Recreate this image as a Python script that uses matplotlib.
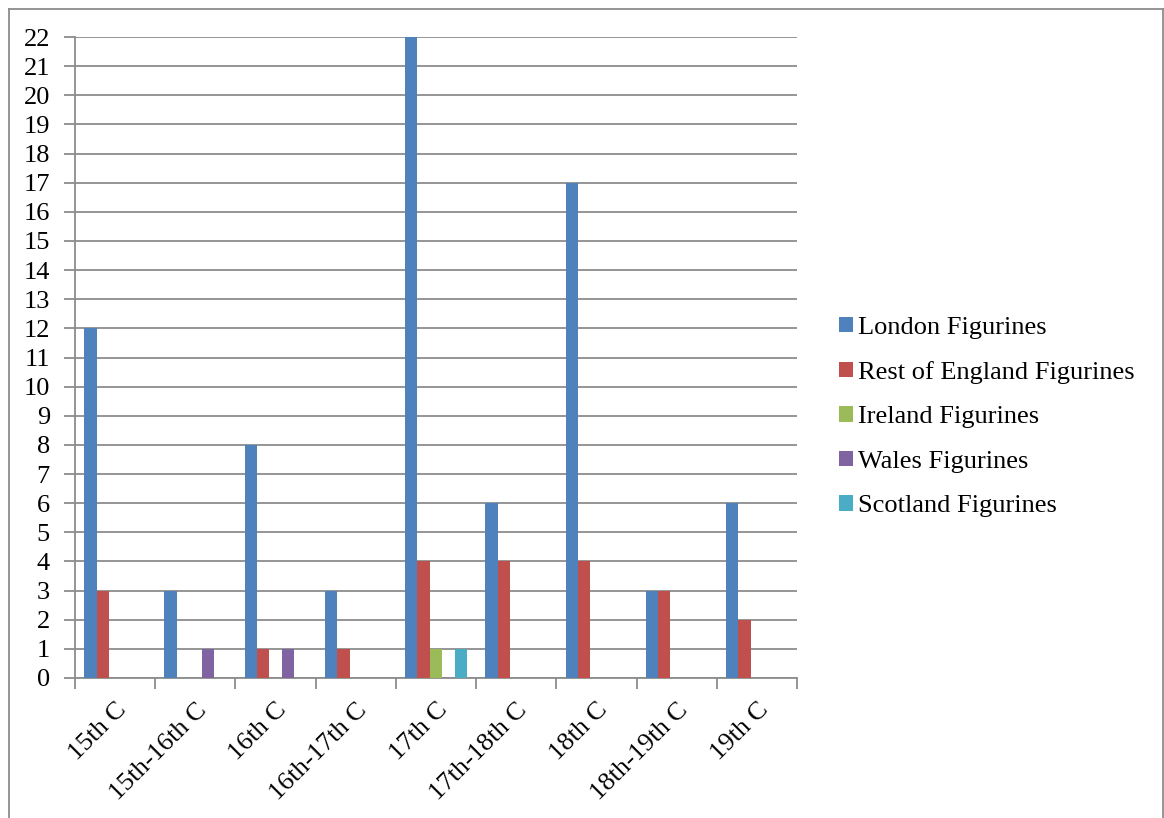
import numpy as np
import matplotlib
matplotlib.use("Agg")
import matplotlib.pyplot as plt
from matplotlib.lines import Line2D
from matplotlib.patches import Patch

plt.rcParams['font.family'] = ['Liberation Serif', 'DejaVu Serif']

# dados
periodos = ["15th C", "15th-16th C", "16th C", "16th-17th C", "17th C",
            "17th-18th C", "18th C", "18th-19th C", "19th C"]
london = [12, 3, 8, 3, 22, 6, 17, 3, 6]
resto_inglaterra = [3, 0, 1, 1, 4, 4, 4, 3, 2]
irlanda = [0, 0, 0, 0, 1, 0, 0, 0, 0]
gales = [0, 1, 1, 0, 0, 0, 0, 0, 0]
escocia = [0, 0, 0, 0, 1, 0, 0, 0, 0]

series = [london, resto_inglaterra, irlanda, gales, escocia]
nomes = ["London Figurines", "Rest of England Figurines", "Ireland Figurines",
         "Wales Figurines", "Scotland Figurines"]
cores = ["#4F81BD", "#C0504D", "#9BBB59", "#8064A2", "#4BACC6"]

fs = 19
cinza = "#8C8C8C"

fig = plt.figure(figsize=(11.64, 8.18), dpi=100)
ax = fig.add_axes([75/1164, 1-678/818, (797-75)/1164, (678-37)/818])

x = np.arange(len(periodos))
w = 1/6.5  # gap width 150%
for i, (vals, cor) in enumerate(zip(series, cores)):
    ax.bar(x + (i-2)*w, vals, width=w, color=cor, zorder=3)

ax.set_xlim(-0.5, len(periodos)-0.5)
ax.set_ylim(0, 22)
ax.set_yticks(range(0, 23))
ax.yaxis.grid(True, color=cinza, linewidth=1.3, zorder=0)
ax.tick_params(axis='y', labelsize=fs, length=8, width=1.3, color=cinza, pad=10)

# ticks nas fronteiras, rotulos no centro
ax.set_xticks(np.arange(-0.5, len(periodos)), minor=True)
ax.set_xticks(x)
ax.set_xticklabels(periodos, rotation=45, ha='right', rotation_mode='anchor', fontsize=fs)
ax.tick_params(axis='x', which='major', length=0, pad=15)
ax.tick_params(axis='x', which='minor', length=8, width=1.3, color=cinza)

for s in ['top', 'right']:
    ax.spines[s].set_visible(False)
for s in ['left', 'bottom']:
    ax.spines[s].set_color(cinza)
    ax.spines[s].set_linewidth(1.3)

handles = [Patch(facecolor=c, edgecolor='none') for c in cores]
fig.legend(handles, nomes, loc='center left', bbox_to_anchor=(839/1164, 1-417/818),
           frameon=False, fontsize=fs, handlelength=0.52, handleheight=0.52,
           handletextpad=0.2, labelspacing=0.85, borderpad=0, borderaxespad=0)

# moldura
fig.add_artist(Line2D([8.5/1164, 8.5/1164], [0, 1-8.5/818], transform=fig.transFigure, color=cinza, lw=1.3))
fig.add_artist(Line2D([8.5/1164, 1162.5/1164], [1-8.5/818, 1-8.5/818], transform=fig.transFigure, color=cinza, lw=1.3))
fig.add_artist(Line2D([1162.5/1164, 1162.5/1164], [0, 1-8.5/818], transform=fig.transFigure, color=cinza, lw=1.3))

fig.savefig("out.png", dpi=100)
